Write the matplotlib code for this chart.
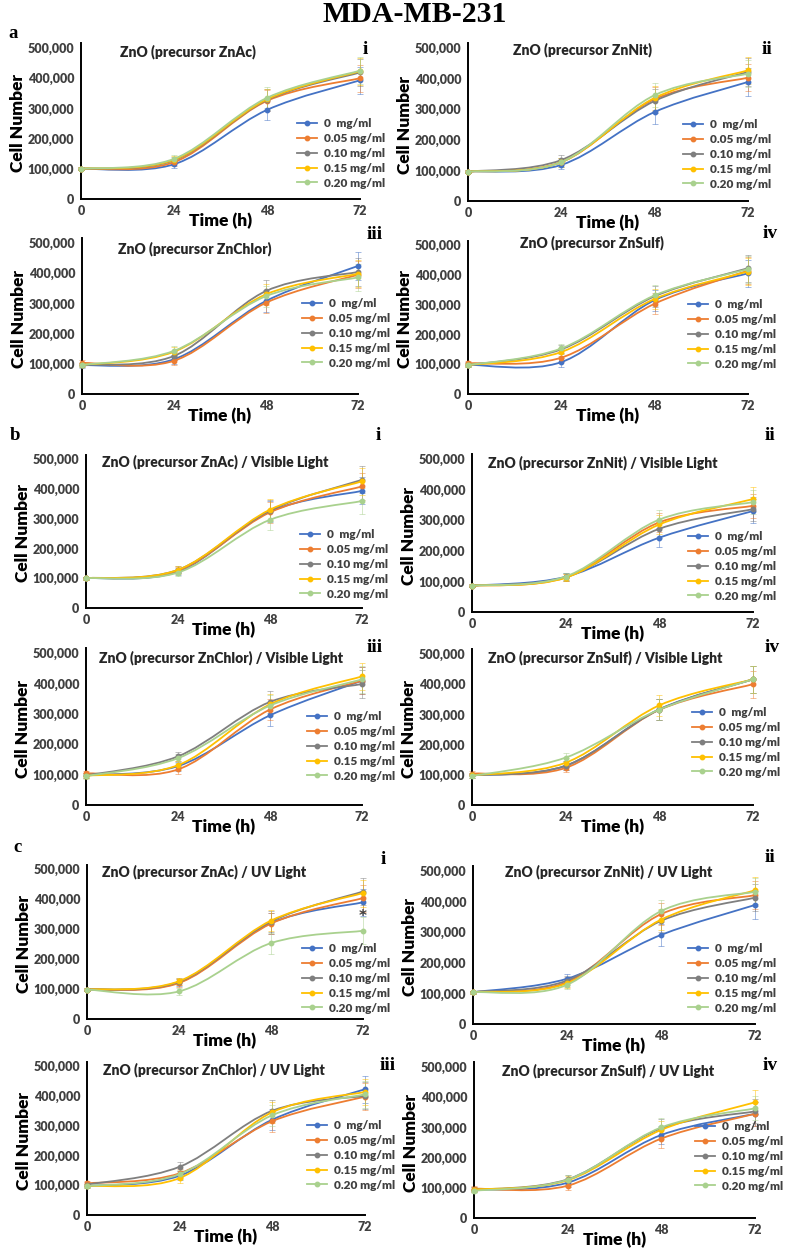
import matplotlib
matplotlib.use('Agg')
import matplotlib.pyplot as plt
from matplotlib.path import Path
from matplotlib.patches import PathPatch
from matplotlib.lines import Line2D

W, H = 791, 1256

hours = [0, 24, 48, 72]
doses = ['0  mg/ml', '0.05 mg/ml', '0.10 mg/ml', '0.15 mg/ml', '0.20 mg/ml']
colors = ['#4472C4', '#ED7D31', '#7F7F7F', '#FFC000', '#A9D18E']

# cell numbers in thousands, one row per dose (0, 0.05, 0.10, 0.15, 0.20 mg/ml)
ac_dark = [[100, 115, 295, 393], [100, 122, 325, 400], [100, 128, 328, 419],
           [100, 130, 330, 423], [100, 133, 335, 425]]
nit_dark = [[96, 118, 291, 389], [96, 127, 333, 403], [96, 134, 327, 422],
            [96, 127, 337, 427], [96, 127, 346, 416]]
chlor_dark = [[95, 115, 308, 424], [103, 110, 302, 395], [96, 126, 341, 404],
              [96, 140, 330, 398], [96, 143, 324, 386]]
sulf_dark = [[98, 107, 315, 405], [103, 122, 303, 414], [97, 150, 328, 422],
             [97, 141, 319, 411], [97, 153, 331, 419]]

ac_vis = [[100, 122, 324, 393], [100, 125, 321, 408], [100, 128, 327, 430],
          [100, 128, 330, 425], [100, 119, 296, 359]]
nit_vis = [[86, 115, 243, 330], [86, 113, 293, 347], [86, 114, 272, 336],
           [86, 112, 286, 369], [86, 116, 302, 359]]
chlor_vis = [[98, 128, 295, 409], [104, 117, 314, 409], [97, 160, 339, 398],
             [96, 131, 331, 423], [95, 154, 327, 413]]
sulf_vis = [[98, 130, 317, 416], [104, 123, 315, 400], [98, 130, 316, 416],
            [98, 140, 330, 416], [96, 157, 316, 416]]

ac_uv = [[98, 122, 320, 389], [98, 120, 318, 403], [98, 124, 325, 425],
         [98, 126, 328, 420], [98, 92, 253, 294]]
nit_uv = [[104, 148, 291, 389], [104, 137, 359, 421], [104, 142, 337, 413],
          [104, 133, 341, 437], [104, 128, 369, 432]]
chlor_uv = [[97, 132, 320, 422], [106, 140, 315, 397], [102, 162, 350, 400],
            [97, 124, 345, 413], [97, 137, 335, 405]]
sulf_uv = [[93, 117, 275, 345], [97, 107, 263, 345], [93, 128, 297, 353],
           [94, 125, 292, 383], [90, 127, 300, 363]]

# error bars (thousands), per panel at 0/24/48/72 h
err_ac_dark = [5, 12, 35, 45]
err_nit_dark = [5, 15, 40, 45]
err_chlor_dark = [8, 15, 35, 45]
err_sulf_dark = [8, 15, 35, 45]
err_ac_vis = [5, 12, 35, 45]
err_nit_vis = [5, 12, 30, 40]
err_chlor_vis = [8, 15, 35, 45]
err_sulf_vis = [8, 15, 35, 45]
err_ac_uv = [5, 12, 35, 45]
err_nit_uv = [5, 15, 35, 45]
err_chlor_uv = [8, 15, 35, 45]
err_sulf_uv = [8, 15, 30, 40]

titles = ['ZnO (precursor ZnAc)', 'ZnO (precursor ZnNit)',
          'ZnO (precursor ZnChlor)', 'ZnO (precursor ZnSulf)']
suffix = ['', ' / Visible Light', ' / UV Light']
numerals = ['i', 'ii', 'iii', 'iv']

panels = [ac_dark, nit_dark, chlor_dark, sulf_dark,
          ac_vis, nit_vis, chlor_vis, sulf_vis,
          ac_uv, nit_uv, chlor_uv, sulf_uv]
errors = [err_ac_dark, err_nit_dark, err_chlor_dark, err_sulf_dark,
          err_ac_vis, err_nit_vis, err_chlor_vis, err_sulf_vis,
          err_ac_uv, err_nit_uv, err_chlor_uv, err_sulf_uv]

# layout in pixels: axis left, x of 72 h, y of 0, y of 500,000
boxes = [(81, 360, 199, 48), (468, 748, 201, 48), (82, 358, 394, 243), (468, 748, 394, 245),
         (86, 362, 608, 459), (472, 753, 612, 459), (86, 362, 805, 653), (472, 753, 805, 654),
         (87, 363, 1019, 869), (473, 755, 1024, 871), (87, 365, 1215, 1066), (474, 755, 1218, 1067)]
title_pos = [(120, 52), (513, 50), (118, 249), (520, 243),
             (102, 462), (488, 463), (99, 658), (488, 658),
             (102, 872), (505, 872), (103, 1070), (502, 1071)]
numeral_pos = [(365, 49), (767, 49), (375, 235), (770, 233),
               (378, 435), (770, 435), (375, 647), (772, 648),
               (383, 860), (770, 858), (388, 1065), (770, 1065)]
legend_pos = [(297, 125), (683, 126), (302, 305), (688, 306),
              (300, 536), (688, 538), (307, 718), (692, 714),
              (302, 950), (688, 950), (307, 1127), (695, 1128)]

SANS = ['Lato', 'DejaVu Sans']
SERIF = ['Liberation Serif', 'DejaVu Serif']
TXT = '#404040'


def smooth_path(xs, ys):
    # Catmull-Rom style Bezier, like Excel's smoothed lines
    pts = list(zip(xs, ys))
    n = len(pts)
    verts = [pts[0]]
    codes = [Path.MOVETO]
    for i in range(n - 1):
        p0 = pts[max(i - 1, 0)]
        p1 = pts[i]
        p2 = pts[i + 1]
        p3 = pts[min(i + 2, n - 1)]
        c1 = (p1[0] + (p2[0] - p0[0]) / 6, p1[1] + (p2[1] - p0[1]) / 6)
        c2 = (p2[0] - (p3[0] - p1[0]) / 6, p2[1] - (p3[1] - p1[1]) / 6)
        verts += [c1, c2, p2]
        codes += [Path.CURVE4] * 3
    return Path(verts, codes)


def fx(x):
    return x / W


def fy(y):
    return 1 - y / H


fig = plt.figure(figsize=(W / 100, H / 100), dpi=100)
fig.patch.set_facecolor('white')

fig.text(fx(415), fy(15), 'MDA-MB-231', family=SERIF, weight='bold',
         fontsize=21.5, ha='center', va='center')
for letter, (lx, ly) in zip(['a', 'b', 'c'], [(13, 33), (15, 435), (17, 847)]):
    fig.text(fx(lx), fy(ly), letter, family=SERIF, weight='bold', fontsize=13.5,
             ha='center', va='center')

for k, data in enumerate(panels):
    left, right, y0, y500 = boxes[k]
    ymax = 515000
    top = y0 - (y0 - y500) * ymax / 500000
    ax = fig.add_axes([fx(left), fy(y0), (right - left) / W, (y0 - top) / H])
    ax.set_xlim(0, 72)
    ax.set_ylim(0, ymax)
    for side in ['top', 'right']:
        ax.spines[side].set_visible(False)
    for side in ['left', 'bottom']:
        ax.spines[side].set_linewidth(1.4)
        ax.spines[side].set_color('black')
    ax.set_xticks(hours)
    ax.set_xticklabels([str(h) for h in hours])
    yt = list(range(0, 500001, 100000))
    ax.set_yticks(yt)
    ax.set_yticklabels([f'{v:,}' for v in yt])
    ax.tick_params(length=0, labelsize=9, labelcolor=TXT)
    ax.tick_params(axis='x', pad=4)
    ax.tick_params(axis='y', pad=5)
    for lab in ax.get_xticklabels() + ax.get_yticklabels():
        lab.set_family(SANS)
        lab.set_weight('heavy')

    err = [e * 1000 for e in errors[k]]
    for j, series in enumerate(data):
        vals = [v * 1000 for v in series]
        ax.add_patch(PathPatch(smooth_path(hours, vals), fill=False,
                               edgecolor=colors[j], lw=1.3, zorder=3 + j,
                               clip_on=False))
        ax.errorbar(hours, vals, yerr=err, fmt='none', ecolor=colors[j],
                    elinewidth=0.7, capsize=2, capthick=0.7, alpha=0.5,
                    zorder=2, clip_on=False)
        ax.plot(hours, vals, 'o', color=colors[j], ms=3.2, zorder=3 + j,
                clip_on=False)

    handles = [Line2D([0], [0], color=c, lw=1.3, marker='o', ms=3.2) for c in colors]
    lx, ly = legend_pos[k]
    ax.legend(handles, doses, loc='upper left',
              bbox_to_anchor=(fx(lx), fy(ly - 7)), bbox_transform=fig.transFigure,
              frameon=False, borderpad=0, borderaxespad=0, handlelength=1.7,
              handletextpad=0.55, labelspacing=0.33,
              prop={'family': SANS, 'weight': 'heavy', 'size': 8.5})
    for t in ax.get_legend().get_texts():
        t.set_color(TXT)

    group = k // 4
    tx, ty = title_pos[k]
    fig.text(fx(tx), fy(ty), titles[k % 4] + suffix[group], family=SANS,
             weight='heavy', fontsize=10, color='#262626', ha='left', va='center')
    nx, ny = numeral_pos[k]
    fig.text(fx(nx), fy(ny), numerals[k % 4], family=SERIF, weight='bold',
             fontsize=14, ha='center', va='center')
    fig.text(fx(left - 63), fy((y0 + y500) / 2), 'Cell Number', family=SANS,
             weight='heavy', fontsize=12.5, rotation=90, ha='center', va='center')
    fig.text(fx((left + right) / 2), fy(y0 + 22), 'Time (h)', family=SANS,
             weight='heavy', fontsize=12.5, ha='center', va='center')

    if k == 8:
        ax.text(72, 340000, '*', fontsize=11, weight='bold', color='#404040',
                ha='center', va='center')

fig.savefig('out.png', dpi=100)
